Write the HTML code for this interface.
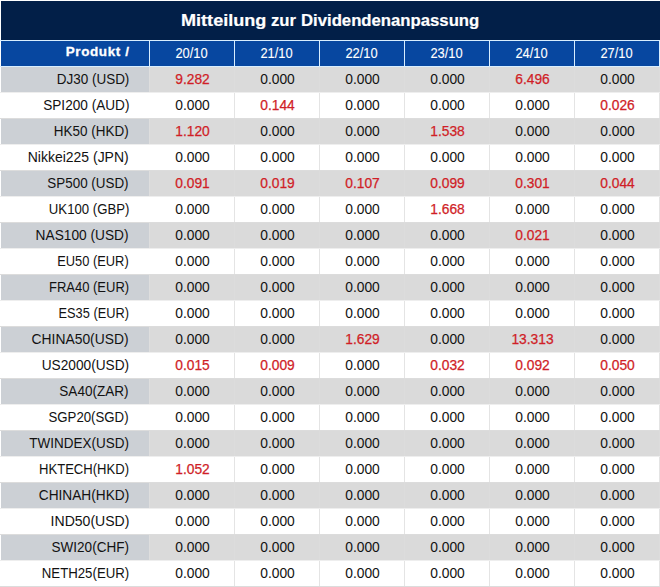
<!DOCTYPE html>
<html><head><meta charset="utf-8"><style>
html,body{margin:0;padding:0;background:#fff;width:660px;height:587px;overflow:hidden;position:relative}
body{font-family:"Liberation Sans",sans-serif}
.a{position:absolute;box-sizing:border-box;white-space:nowrap}
.h{background:#0747a0;color:#fff}
.c{text-align:center}
.g1{background:#ccd0d5}
.g2{background:#dadada}
.w{background:#fff}
.red{color:#d01e27;-webkit-text-stroke:0.25px currentColor !important}
.blk{color:#121212}
.num{font-size:13.8px;-webkit-text-stroke:0.0px currentColor}
.nm{font-size:13.8px;-webkit-text-stroke:0.0px currentColor}
.nm span{display:inline-block;transform-origin:100% 50%}
.dt{font-size:14px;-webkit-text-stroke:0.1px #fff}
</style></head><body>

<div class="a" style="left:1px;top:1px;width:659px;height:39px;background:#021f48"></div>
<div class="a" style="left:181px;top:9px;height:24px;line-height:24px;font-size:17px;color:#fff;font-weight:bold;-webkit-text-stroke:0.2px #fff"><span style="display:inline-block;transform-origin:0 50%;transform:scaleX(1.064)">Mitteilung</span></div>
<div class="a" style="left:271px;top:9px;height:24px;line-height:24px;font-size:17px;color:#fff;font-weight:bold;-webkit-text-stroke:0.2px #fff"><span style="display:inline-block;transform-origin:0 50%;transform:scaleX(0.98)">zur</span></div>
<div class="a" style="left:301px;top:9px;height:24px;line-height:24px;font-size:17px;color:#fff;font-weight:bold;-webkit-text-stroke:0.2px #fff"><span style="display:inline-block;transform-origin:0 50%;transform:scaleX(0.983)">Dividendenanpassung</span></div>
<div class="a" style="left:0;top:40px;width:660px;height:1px;background:#d8eeff"></div>
<div class="a" style="left:0;top:66px;width:660px;height:1px;background:#d8eeff"></div>
<div class="a h" style="left:1px;top:41px;width:148px;height:25px"></div>
<div class="a" style="left:0;top:39px;width:129.6px;height:25px;line-height:25px;text-align:right;color:#fff;font-size:13.5px;font-weight:bold;letter-spacing:0.6px;-webkit-text-stroke:0.3px #fff"><span style="display:inline-block;transform-origin:100% 50%;transform:scaleX(1.0)">Produkt /</span></div>
<div class="a h" style="left:150px;top:41px;width:84px;height:25px"></div>
<div class="a c dt" style="left:150px;top:41px;width:84px;height:25px;line-height:25px;color:#fff"><span style="display:inline-block;transform:scaleX(0.92)">20/10</span></div>
<div class="a" style="left:149px;top:41px;width:1px;height:25px;background:#d8eeff"></div>
<div class="a h" style="left:235px;top:41px;width:84px;height:25px"></div>
<div class="a c dt" style="left:235px;top:41px;width:84px;height:25px;line-height:25px;color:#fff"><span style="display:inline-block;transform:scaleX(0.92)">21/10</span></div>
<div class="a" style="left:234px;top:41px;width:1px;height:25px;background:#d8eeff"></div>
<div class="a h" style="left:320px;top:41px;width:84px;height:25px"></div>
<div class="a c dt" style="left:320px;top:41px;width:84px;height:25px;line-height:25px;color:#fff"><span style="display:inline-block;transform:scaleX(0.92)">22/10</span></div>
<div class="a" style="left:319px;top:41px;width:1px;height:25px;background:#d8eeff"></div>
<div class="a h" style="left:405px;top:41px;width:84px;height:25px"></div>
<div class="a c dt" style="left:405px;top:41px;width:84px;height:25px;line-height:25px;color:#fff"><span style="display:inline-block;transform:scaleX(0.92)">23/10</span></div>
<div class="a" style="left:404px;top:41px;width:1px;height:25px;background:#d8eeff"></div>
<div class="a h" style="left:490px;top:41px;width:84px;height:25px"></div>
<div class="a c dt" style="left:490px;top:41px;width:84px;height:25px;line-height:25px;color:#fff"><span style="display:inline-block;transform:scaleX(0.92)">24/10</span></div>
<div class="a" style="left:489px;top:41px;width:1px;height:25px;background:#d8eeff"></div>
<div class="a h" style="left:575px;top:41px;width:84px;height:25px"></div>
<div class="a c dt" style="left:575px;top:41px;width:84px;height:25px;line-height:25px;color:#fff"><span style="display:inline-block;transform:scaleX(0.92)">27/10</span></div>
<div class="a" style="left:574px;top:41px;width:1px;height:25px;background:#d8eeff"></div>
<div class="a" style="left:659px;top:41px;width:1px;height:25px;background:#d8eeff"></div>
<div class="a" style="left:0;top:92px;width:660px;height:1px;background:#eeeeee"></div>
<div class="a g1" style="left:1px;top:67px;width:148px;height:25px"></div>
<div class="a nm blk" style="left:0;top:67px;width:129px;height:25px;line-height:25px;text-align:right"><span style="transform:scaleX(0.9778)">DJ30 (USD)</span></div>
<div class="a g2" style="left:150px;top:67px;width:84px;height:25px"></div>
<div class="a c num red" style="left:150.5px;top:67px;width:84px;height:25px;line-height:25px">9.282</div>
<div class="a" style="left:149px;top:67px;width:1px;height:25px;background:#dedede"></div>
<div class="a g2" style="left:235px;top:67px;width:84px;height:25px"></div>
<div class="a c num blk" style="left:235.5px;top:67px;width:84px;height:25px;line-height:25px">0.000</div>
<div class="a" style="left:234px;top:67px;width:1px;height:25px;background:#dcdcdc"></div>
<div class="a g2" style="left:320px;top:67px;width:84px;height:25px"></div>
<div class="a c num blk" style="left:320.5px;top:67px;width:84px;height:25px;line-height:25px">0.000</div>
<div class="a" style="left:319px;top:67px;width:1px;height:25px;background:#dcdcdc"></div>
<div class="a g2" style="left:405px;top:67px;width:84px;height:25px"></div>
<div class="a c num blk" style="left:405.5px;top:67px;width:84px;height:25px;line-height:25px">0.000</div>
<div class="a" style="left:404px;top:67px;width:1px;height:25px;background:#dcdcdc"></div>
<div class="a g2" style="left:490px;top:67px;width:84px;height:25px"></div>
<div class="a c num red" style="left:490.5px;top:67px;width:84px;height:25px;line-height:25px">6.496</div>
<div class="a" style="left:489px;top:67px;width:1px;height:25px;background:#dcdcdc"></div>
<div class="a g2" style="left:575px;top:67px;width:84px;height:25px"></div>
<div class="a c num blk" style="left:575.5px;top:67px;width:84px;height:25px;line-height:25px">0.000</div>
<div class="a" style="left:574px;top:67px;width:1px;height:25px;background:#dcdcdc"></div>
<div class="a" style="left:659px;top:67px;width:1px;height:25px;background:#dcdcdc"></div>
<div class="a" style="left:0;top:118px;width:660px;height:1px;background:#dcdcdc"></div>
<div class="a w" style="left:1px;top:93px;width:148px;height:25px"></div>
<div class="a nm blk" style="left:0;top:93px;width:129px;height:25px;line-height:25px;text-align:right"><span style="transform:scaleX(0.9860)">SPI200 (AUD)</span></div>
<div class="a w" style="left:150px;top:93px;width:84px;height:25px"></div>
<div class="a c num blk" style="left:150.5px;top:93px;width:84px;height:25px;line-height:25px">0.000</div>
<div class="a" style="left:149px;top:93px;width:1px;height:25px;background:#ffffff"></div>
<div class="a w" style="left:235px;top:93px;width:84px;height:25px"></div>
<div class="a c num red" style="left:235.5px;top:93px;width:84px;height:25px;line-height:25px">0.144</div>
<div class="a" style="left:234px;top:93px;width:1px;height:25px;background:#e4e4e4"></div>
<div class="a w" style="left:320px;top:93px;width:84px;height:25px"></div>
<div class="a c num blk" style="left:320.5px;top:93px;width:84px;height:25px;line-height:25px">0.000</div>
<div class="a" style="left:319px;top:93px;width:1px;height:25px;background:#e4e4e4"></div>
<div class="a w" style="left:405px;top:93px;width:84px;height:25px"></div>
<div class="a c num blk" style="left:405.5px;top:93px;width:84px;height:25px;line-height:25px">0.000</div>
<div class="a" style="left:404px;top:93px;width:1px;height:25px;background:#e4e4e4"></div>
<div class="a w" style="left:490px;top:93px;width:84px;height:25px"></div>
<div class="a c num blk" style="left:490.5px;top:93px;width:84px;height:25px;line-height:25px">0.000</div>
<div class="a" style="left:489px;top:93px;width:1px;height:25px;background:#e4e4e4"></div>
<div class="a w" style="left:575px;top:93px;width:84px;height:25px"></div>
<div class="a c num red" style="left:575.5px;top:93px;width:84px;height:25px;line-height:25px">0.026</div>
<div class="a" style="left:574px;top:93px;width:1px;height:25px;background:#e4e4e4"></div>
<div class="a" style="left:659px;top:93px;width:1px;height:25px;background:#e4e4e4"></div>
<div class="a" style="left:0;top:144px;width:660px;height:1px;background:#eeeeee"></div>
<div class="a g1" style="left:1px;top:119px;width:148px;height:25px"></div>
<div class="a nm blk" style="left:0;top:119px;width:129px;height:25px;line-height:25px;text-align:right"><span style="transform:scaleX(0.9760)">HK50 (HKD)</span></div>
<div class="a g2" style="left:150px;top:119px;width:84px;height:25px"></div>
<div class="a c num red" style="left:150.5px;top:119px;width:84px;height:25px;line-height:25px">1.120</div>
<div class="a" style="left:149px;top:119px;width:1px;height:25px;background:#dedede"></div>
<div class="a g2" style="left:235px;top:119px;width:84px;height:25px"></div>
<div class="a c num blk" style="left:235.5px;top:119px;width:84px;height:25px;line-height:25px">0.000</div>
<div class="a" style="left:234px;top:119px;width:1px;height:25px;background:#dcdcdc"></div>
<div class="a g2" style="left:320px;top:119px;width:84px;height:25px"></div>
<div class="a c num blk" style="left:320.5px;top:119px;width:84px;height:25px;line-height:25px">0.000</div>
<div class="a" style="left:319px;top:119px;width:1px;height:25px;background:#dcdcdc"></div>
<div class="a g2" style="left:405px;top:119px;width:84px;height:25px"></div>
<div class="a c num red" style="left:405.5px;top:119px;width:84px;height:25px;line-height:25px">1.538</div>
<div class="a" style="left:404px;top:119px;width:1px;height:25px;background:#dcdcdc"></div>
<div class="a g2" style="left:490px;top:119px;width:84px;height:25px"></div>
<div class="a c num blk" style="left:490.5px;top:119px;width:84px;height:25px;line-height:25px">0.000</div>
<div class="a" style="left:489px;top:119px;width:1px;height:25px;background:#dcdcdc"></div>
<div class="a g2" style="left:575px;top:119px;width:84px;height:25px"></div>
<div class="a c num blk" style="left:575.5px;top:119px;width:84px;height:25px;line-height:25px">0.000</div>
<div class="a" style="left:574px;top:119px;width:1px;height:25px;background:#dcdcdc"></div>
<div class="a" style="left:659px;top:119px;width:1px;height:25px;background:#dcdcdc"></div>
<div class="a" style="left:0;top:170px;width:660px;height:1px;background:#dcdcdc"></div>
<div class="a w" style="left:1px;top:145px;width:148px;height:25px"></div>
<div class="a nm blk" style="left:0;top:145px;width:129px;height:25px;line-height:25px;text-align:right"><span style="transform:scaleX(1.0122)">Nikkei225 (JPN)</span></div>
<div class="a w" style="left:150px;top:145px;width:84px;height:25px"></div>
<div class="a c num blk" style="left:150.5px;top:145px;width:84px;height:25px;line-height:25px">0.000</div>
<div class="a" style="left:149px;top:145px;width:1px;height:25px;background:#ffffff"></div>
<div class="a w" style="left:235px;top:145px;width:84px;height:25px"></div>
<div class="a c num blk" style="left:235.5px;top:145px;width:84px;height:25px;line-height:25px">0.000</div>
<div class="a" style="left:234px;top:145px;width:1px;height:25px;background:#e4e4e4"></div>
<div class="a w" style="left:320px;top:145px;width:84px;height:25px"></div>
<div class="a c num blk" style="left:320.5px;top:145px;width:84px;height:25px;line-height:25px">0.000</div>
<div class="a" style="left:319px;top:145px;width:1px;height:25px;background:#e4e4e4"></div>
<div class="a w" style="left:405px;top:145px;width:84px;height:25px"></div>
<div class="a c num blk" style="left:405.5px;top:145px;width:84px;height:25px;line-height:25px">0.000</div>
<div class="a" style="left:404px;top:145px;width:1px;height:25px;background:#e4e4e4"></div>
<div class="a w" style="left:490px;top:145px;width:84px;height:25px"></div>
<div class="a c num blk" style="left:490.5px;top:145px;width:84px;height:25px;line-height:25px">0.000</div>
<div class="a" style="left:489px;top:145px;width:1px;height:25px;background:#e4e4e4"></div>
<div class="a w" style="left:575px;top:145px;width:84px;height:25px"></div>
<div class="a c num blk" style="left:575.5px;top:145px;width:84px;height:25px;line-height:25px">0.000</div>
<div class="a" style="left:574px;top:145px;width:1px;height:25px;background:#e4e4e4"></div>
<div class="a" style="left:659px;top:145px;width:1px;height:25px;background:#e4e4e4"></div>
<div class="a" style="left:0;top:196px;width:660px;height:1px;background:#eeeeee"></div>
<div class="a g1" style="left:1px;top:171px;width:148px;height:25px"></div>
<div class="a nm blk" style="left:0;top:171px;width:129px;height:25px;line-height:25px;text-align:right"><span style="transform:scaleX(0.9720)">SP500 (USD)</span></div>
<div class="a g2" style="left:150px;top:171px;width:84px;height:25px"></div>
<div class="a c num red" style="left:150.5px;top:171px;width:84px;height:25px;line-height:25px">0.091</div>
<div class="a" style="left:149px;top:171px;width:1px;height:25px;background:#dedede"></div>
<div class="a g2" style="left:235px;top:171px;width:84px;height:25px"></div>
<div class="a c num red" style="left:235.5px;top:171px;width:84px;height:25px;line-height:25px">0.019</div>
<div class="a" style="left:234px;top:171px;width:1px;height:25px;background:#dcdcdc"></div>
<div class="a g2" style="left:320px;top:171px;width:84px;height:25px"></div>
<div class="a c num red" style="left:320.5px;top:171px;width:84px;height:25px;line-height:25px">0.107</div>
<div class="a" style="left:319px;top:171px;width:1px;height:25px;background:#dcdcdc"></div>
<div class="a g2" style="left:405px;top:171px;width:84px;height:25px"></div>
<div class="a c num red" style="left:405.5px;top:171px;width:84px;height:25px;line-height:25px">0.099</div>
<div class="a" style="left:404px;top:171px;width:1px;height:25px;background:#dcdcdc"></div>
<div class="a g2" style="left:490px;top:171px;width:84px;height:25px"></div>
<div class="a c num red" style="left:490.5px;top:171px;width:84px;height:25px;line-height:25px">0.301</div>
<div class="a" style="left:489px;top:171px;width:1px;height:25px;background:#dcdcdc"></div>
<div class="a g2" style="left:575px;top:171px;width:84px;height:25px"></div>
<div class="a c num red" style="left:575.5px;top:171px;width:84px;height:25px;line-height:25px">0.044</div>
<div class="a" style="left:574px;top:171px;width:1px;height:25px;background:#dcdcdc"></div>
<div class="a" style="left:659px;top:171px;width:1px;height:25px;background:#dcdcdc"></div>
<div class="a" style="left:0;top:222px;width:660px;height:1px;background:#dcdcdc"></div>
<div class="a w" style="left:1px;top:197px;width:148px;height:25px"></div>
<div class="a nm blk" style="left:0;top:197px;width:129px;height:25px;line-height:25px;text-align:right"><span style="transform:scaleX(0.9542)">UK100 (GBP)</span></div>
<div class="a w" style="left:150px;top:197px;width:84px;height:25px"></div>
<div class="a c num blk" style="left:150.5px;top:197px;width:84px;height:25px;line-height:25px">0.000</div>
<div class="a" style="left:149px;top:197px;width:1px;height:25px;background:#ffffff"></div>
<div class="a w" style="left:235px;top:197px;width:84px;height:25px"></div>
<div class="a c num blk" style="left:235.5px;top:197px;width:84px;height:25px;line-height:25px">0.000</div>
<div class="a" style="left:234px;top:197px;width:1px;height:25px;background:#e4e4e4"></div>
<div class="a w" style="left:320px;top:197px;width:84px;height:25px"></div>
<div class="a c num blk" style="left:320.5px;top:197px;width:84px;height:25px;line-height:25px">0.000</div>
<div class="a" style="left:319px;top:197px;width:1px;height:25px;background:#e4e4e4"></div>
<div class="a w" style="left:405px;top:197px;width:84px;height:25px"></div>
<div class="a c num red" style="left:405.5px;top:197px;width:84px;height:25px;line-height:25px">1.668</div>
<div class="a" style="left:404px;top:197px;width:1px;height:25px;background:#e4e4e4"></div>
<div class="a w" style="left:490px;top:197px;width:84px;height:25px"></div>
<div class="a c num blk" style="left:490.5px;top:197px;width:84px;height:25px;line-height:25px">0.000</div>
<div class="a" style="left:489px;top:197px;width:1px;height:25px;background:#e4e4e4"></div>
<div class="a w" style="left:575px;top:197px;width:84px;height:25px"></div>
<div class="a c num blk" style="left:575.5px;top:197px;width:84px;height:25px;line-height:25px">0.000</div>
<div class="a" style="left:574px;top:197px;width:1px;height:25px;background:#e4e4e4"></div>
<div class="a" style="left:659px;top:197px;width:1px;height:25px;background:#e4e4e4"></div>
<div class="a" style="left:0;top:248px;width:660px;height:1px;background:#eeeeee"></div>
<div class="a g1" style="left:1px;top:223px;width:148px;height:25px"></div>
<div class="a nm blk" style="left:0;top:223px;width:129px;height:25px;line-height:25px;text-align:right"><span style="transform:scaleX(0.9935)">NAS100 (USD)</span></div>
<div class="a g2" style="left:150px;top:223px;width:84px;height:25px"></div>
<div class="a c num blk" style="left:150.5px;top:223px;width:84px;height:25px;line-height:25px">0.000</div>
<div class="a" style="left:149px;top:223px;width:1px;height:25px;background:#dedede"></div>
<div class="a g2" style="left:235px;top:223px;width:84px;height:25px"></div>
<div class="a c num blk" style="left:235.5px;top:223px;width:84px;height:25px;line-height:25px">0.000</div>
<div class="a" style="left:234px;top:223px;width:1px;height:25px;background:#dcdcdc"></div>
<div class="a g2" style="left:320px;top:223px;width:84px;height:25px"></div>
<div class="a c num blk" style="left:320.5px;top:223px;width:84px;height:25px;line-height:25px">0.000</div>
<div class="a" style="left:319px;top:223px;width:1px;height:25px;background:#dcdcdc"></div>
<div class="a g2" style="left:405px;top:223px;width:84px;height:25px"></div>
<div class="a c num blk" style="left:405.5px;top:223px;width:84px;height:25px;line-height:25px">0.000</div>
<div class="a" style="left:404px;top:223px;width:1px;height:25px;background:#dcdcdc"></div>
<div class="a g2" style="left:490px;top:223px;width:84px;height:25px"></div>
<div class="a c num red" style="left:490.5px;top:223px;width:84px;height:25px;line-height:25px">0.021</div>
<div class="a" style="left:489px;top:223px;width:1px;height:25px;background:#dcdcdc"></div>
<div class="a g2" style="left:575px;top:223px;width:84px;height:25px"></div>
<div class="a c num blk" style="left:575.5px;top:223px;width:84px;height:25px;line-height:25px">0.000</div>
<div class="a" style="left:574px;top:223px;width:1px;height:25px;background:#dcdcdc"></div>
<div class="a" style="left:659px;top:223px;width:1px;height:25px;background:#dcdcdc"></div>
<div class="a" style="left:0;top:274px;width:660px;height:1px;background:#dcdcdc"></div>
<div class="a w" style="left:1px;top:249px;width:148px;height:25px"></div>
<div class="a nm blk" style="left:0;top:249px;width:129px;height:25px;line-height:25px;text-align:right"><span style="transform:scaleX(0.9320)">EU50 (EUR)</span></div>
<div class="a w" style="left:150px;top:249px;width:84px;height:25px"></div>
<div class="a c num blk" style="left:150.5px;top:249px;width:84px;height:25px;line-height:25px">0.000</div>
<div class="a" style="left:149px;top:249px;width:1px;height:25px;background:#ffffff"></div>
<div class="a w" style="left:235px;top:249px;width:84px;height:25px"></div>
<div class="a c num blk" style="left:235.5px;top:249px;width:84px;height:25px;line-height:25px">0.000</div>
<div class="a" style="left:234px;top:249px;width:1px;height:25px;background:#e4e4e4"></div>
<div class="a w" style="left:320px;top:249px;width:84px;height:25px"></div>
<div class="a c num blk" style="left:320.5px;top:249px;width:84px;height:25px;line-height:25px">0.000</div>
<div class="a" style="left:319px;top:249px;width:1px;height:25px;background:#e4e4e4"></div>
<div class="a w" style="left:405px;top:249px;width:84px;height:25px"></div>
<div class="a c num blk" style="left:405.5px;top:249px;width:84px;height:25px;line-height:25px">0.000</div>
<div class="a" style="left:404px;top:249px;width:1px;height:25px;background:#e4e4e4"></div>
<div class="a w" style="left:490px;top:249px;width:84px;height:25px"></div>
<div class="a c num blk" style="left:490.5px;top:249px;width:84px;height:25px;line-height:25px">0.000</div>
<div class="a" style="left:489px;top:249px;width:1px;height:25px;background:#e4e4e4"></div>
<div class="a w" style="left:575px;top:249px;width:84px;height:25px"></div>
<div class="a c num blk" style="left:575.5px;top:249px;width:84px;height:25px;line-height:25px">0.000</div>
<div class="a" style="left:574px;top:249px;width:1px;height:25px;background:#e4e4e4"></div>
<div class="a" style="left:659px;top:249px;width:1px;height:25px;background:#e4e4e4"></div>
<div class="a" style="left:0;top:300px;width:660px;height:1px;background:#eeeeee"></div>
<div class="a g1" style="left:1px;top:275px;width:148px;height:25px"></div>
<div class="a nm blk" style="left:0;top:275px;width:129px;height:25px;line-height:25px;text-align:right"><span style="transform:scaleX(0.9410)">FRA40 (EUR)</span></div>
<div class="a g2" style="left:150px;top:275px;width:84px;height:25px"></div>
<div class="a c num blk" style="left:150.5px;top:275px;width:84px;height:25px;line-height:25px">0.000</div>
<div class="a" style="left:149px;top:275px;width:1px;height:25px;background:#dedede"></div>
<div class="a g2" style="left:235px;top:275px;width:84px;height:25px"></div>
<div class="a c num blk" style="left:235.5px;top:275px;width:84px;height:25px;line-height:25px">0.000</div>
<div class="a" style="left:234px;top:275px;width:1px;height:25px;background:#dcdcdc"></div>
<div class="a g2" style="left:320px;top:275px;width:84px;height:25px"></div>
<div class="a c num blk" style="left:320.5px;top:275px;width:84px;height:25px;line-height:25px">0.000</div>
<div class="a" style="left:319px;top:275px;width:1px;height:25px;background:#dcdcdc"></div>
<div class="a g2" style="left:405px;top:275px;width:84px;height:25px"></div>
<div class="a c num blk" style="left:405.5px;top:275px;width:84px;height:25px;line-height:25px">0.000</div>
<div class="a" style="left:404px;top:275px;width:1px;height:25px;background:#dcdcdc"></div>
<div class="a g2" style="left:490px;top:275px;width:84px;height:25px"></div>
<div class="a c num blk" style="left:490.5px;top:275px;width:84px;height:25px;line-height:25px">0.000</div>
<div class="a" style="left:489px;top:275px;width:1px;height:25px;background:#dcdcdc"></div>
<div class="a g2" style="left:575px;top:275px;width:84px;height:25px"></div>
<div class="a c num blk" style="left:575.5px;top:275px;width:84px;height:25px;line-height:25px">0.000</div>
<div class="a" style="left:574px;top:275px;width:1px;height:25px;background:#dcdcdc"></div>
<div class="a" style="left:659px;top:275px;width:1px;height:25px;background:#dcdcdc"></div>
<div class="a" style="left:0;top:326px;width:660px;height:1px;background:#dcdcdc"></div>
<div class="a w" style="left:1px;top:301px;width:148px;height:25px"></div>
<div class="a nm blk" style="left:0;top:301px;width:129px;height:25px;line-height:25px;text-align:right"><span style="transform:scaleX(0.9270)">ES35 (EUR)</span></div>
<div class="a w" style="left:150px;top:301px;width:84px;height:25px"></div>
<div class="a c num blk" style="left:150.5px;top:301px;width:84px;height:25px;line-height:25px">0.000</div>
<div class="a" style="left:149px;top:301px;width:1px;height:25px;background:#ffffff"></div>
<div class="a w" style="left:235px;top:301px;width:84px;height:25px"></div>
<div class="a c num blk" style="left:235.5px;top:301px;width:84px;height:25px;line-height:25px">0.000</div>
<div class="a" style="left:234px;top:301px;width:1px;height:25px;background:#e4e4e4"></div>
<div class="a w" style="left:320px;top:301px;width:84px;height:25px"></div>
<div class="a c num blk" style="left:320.5px;top:301px;width:84px;height:25px;line-height:25px">0.000</div>
<div class="a" style="left:319px;top:301px;width:1px;height:25px;background:#e4e4e4"></div>
<div class="a w" style="left:405px;top:301px;width:84px;height:25px"></div>
<div class="a c num blk" style="left:405.5px;top:301px;width:84px;height:25px;line-height:25px">0.000</div>
<div class="a" style="left:404px;top:301px;width:1px;height:25px;background:#e4e4e4"></div>
<div class="a w" style="left:490px;top:301px;width:84px;height:25px"></div>
<div class="a c num blk" style="left:490.5px;top:301px;width:84px;height:25px;line-height:25px">0.000</div>
<div class="a" style="left:489px;top:301px;width:1px;height:25px;background:#e4e4e4"></div>
<div class="a w" style="left:575px;top:301px;width:84px;height:25px"></div>
<div class="a c num blk" style="left:575.5px;top:301px;width:84px;height:25px;line-height:25px">0.000</div>
<div class="a" style="left:574px;top:301px;width:1px;height:25px;background:#e4e4e4"></div>
<div class="a" style="left:659px;top:301px;width:1px;height:25px;background:#e4e4e4"></div>
<div class="a" style="left:0;top:352px;width:660px;height:1px;background:#eeeeee"></div>
<div class="a g1" style="left:1px;top:327px;width:148px;height:25px"></div>
<div class="a nm blk" style="left:0;top:327px;width:129px;height:25px;line-height:25px;text-align:right"><span style="transform:scaleX(1.0042)">CHINA50(USD)</span></div>
<div class="a g2" style="left:150px;top:327px;width:84px;height:25px"></div>
<div class="a c num blk" style="left:150.5px;top:327px;width:84px;height:25px;line-height:25px">0.000</div>
<div class="a" style="left:149px;top:327px;width:1px;height:25px;background:#dedede"></div>
<div class="a g2" style="left:235px;top:327px;width:84px;height:25px"></div>
<div class="a c num blk" style="left:235.5px;top:327px;width:84px;height:25px;line-height:25px">0.000</div>
<div class="a" style="left:234px;top:327px;width:1px;height:25px;background:#dcdcdc"></div>
<div class="a g2" style="left:320px;top:327px;width:84px;height:25px"></div>
<div class="a c num red" style="left:320.5px;top:327px;width:84px;height:25px;line-height:25px">1.629</div>
<div class="a" style="left:319px;top:327px;width:1px;height:25px;background:#dcdcdc"></div>
<div class="a g2" style="left:405px;top:327px;width:84px;height:25px"></div>
<div class="a c num blk" style="left:405.5px;top:327px;width:84px;height:25px;line-height:25px">0.000</div>
<div class="a" style="left:404px;top:327px;width:1px;height:25px;background:#dcdcdc"></div>
<div class="a g2" style="left:490px;top:327px;width:84px;height:25px"></div>
<div class="a c num red" style="left:490.5px;top:327px;width:84px;height:25px;line-height:25px">13.313</div>
<div class="a" style="left:489px;top:327px;width:1px;height:25px;background:#dcdcdc"></div>
<div class="a g2" style="left:575px;top:327px;width:84px;height:25px"></div>
<div class="a c num blk" style="left:575.5px;top:327px;width:84px;height:25px;line-height:25px">0.000</div>
<div class="a" style="left:574px;top:327px;width:1px;height:25px;background:#dcdcdc"></div>
<div class="a" style="left:659px;top:327px;width:1px;height:25px;background:#dcdcdc"></div>
<div class="a" style="left:0;top:378px;width:660px;height:1px;background:#dcdcdc"></div>
<div class="a w" style="left:1px;top:353px;width:148px;height:25px"></div>
<div class="a nm blk" style="left:0;top:353px;width:129px;height:25px;line-height:25px;text-align:right"><span style="transform:scaleX(0.9920)">US2000(USD)</span></div>
<div class="a w" style="left:150px;top:353px;width:84px;height:25px"></div>
<div class="a c num red" style="left:150.5px;top:353px;width:84px;height:25px;line-height:25px">0.015</div>
<div class="a" style="left:149px;top:353px;width:1px;height:25px;background:#ffffff"></div>
<div class="a w" style="left:235px;top:353px;width:84px;height:25px"></div>
<div class="a c num red" style="left:235.5px;top:353px;width:84px;height:25px;line-height:25px">0.009</div>
<div class="a" style="left:234px;top:353px;width:1px;height:25px;background:#e4e4e4"></div>
<div class="a w" style="left:320px;top:353px;width:84px;height:25px"></div>
<div class="a c num blk" style="left:320.5px;top:353px;width:84px;height:25px;line-height:25px">0.000</div>
<div class="a" style="left:319px;top:353px;width:1px;height:25px;background:#e4e4e4"></div>
<div class="a w" style="left:405px;top:353px;width:84px;height:25px"></div>
<div class="a c num red" style="left:405.5px;top:353px;width:84px;height:25px;line-height:25px">0.032</div>
<div class="a" style="left:404px;top:353px;width:1px;height:25px;background:#e4e4e4"></div>
<div class="a w" style="left:490px;top:353px;width:84px;height:25px"></div>
<div class="a c num red" style="left:490.5px;top:353px;width:84px;height:25px;line-height:25px">0.092</div>
<div class="a" style="left:489px;top:353px;width:1px;height:25px;background:#e4e4e4"></div>
<div class="a w" style="left:575px;top:353px;width:84px;height:25px"></div>
<div class="a c num red" style="left:575.5px;top:353px;width:84px;height:25px;line-height:25px">0.050</div>
<div class="a" style="left:574px;top:353px;width:1px;height:25px;background:#e4e4e4"></div>
<div class="a" style="left:659px;top:353px;width:1px;height:25px;background:#e4e4e4"></div>
<div class="a" style="left:0;top:404px;width:660px;height:1px;background:#eeeeee"></div>
<div class="a g1" style="left:1px;top:379px;width:148px;height:25px"></div>
<div class="a nm blk" style="left:0;top:379px;width:129px;height:25px;line-height:25px;text-align:right"><span style="transform:scaleX(0.9812)">SA40(ZAR)</span></div>
<div class="a g2" style="left:150px;top:379px;width:84px;height:25px"></div>
<div class="a c num blk" style="left:150.5px;top:379px;width:84px;height:25px;line-height:25px">0.000</div>
<div class="a" style="left:149px;top:379px;width:1px;height:25px;background:#dedede"></div>
<div class="a g2" style="left:235px;top:379px;width:84px;height:25px"></div>
<div class="a c num blk" style="left:235.5px;top:379px;width:84px;height:25px;line-height:25px">0.000</div>
<div class="a" style="left:234px;top:379px;width:1px;height:25px;background:#dcdcdc"></div>
<div class="a g2" style="left:320px;top:379px;width:84px;height:25px"></div>
<div class="a c num blk" style="left:320.5px;top:379px;width:84px;height:25px;line-height:25px">0.000</div>
<div class="a" style="left:319px;top:379px;width:1px;height:25px;background:#dcdcdc"></div>
<div class="a g2" style="left:405px;top:379px;width:84px;height:25px"></div>
<div class="a c num blk" style="left:405.5px;top:379px;width:84px;height:25px;line-height:25px">0.000</div>
<div class="a" style="left:404px;top:379px;width:1px;height:25px;background:#dcdcdc"></div>
<div class="a g2" style="left:490px;top:379px;width:84px;height:25px"></div>
<div class="a c num blk" style="left:490.5px;top:379px;width:84px;height:25px;line-height:25px">0.000</div>
<div class="a" style="left:489px;top:379px;width:1px;height:25px;background:#dcdcdc"></div>
<div class="a g2" style="left:575px;top:379px;width:84px;height:25px"></div>
<div class="a c num blk" style="left:575.5px;top:379px;width:84px;height:25px;line-height:25px">0.000</div>
<div class="a" style="left:574px;top:379px;width:1px;height:25px;background:#dcdcdc"></div>
<div class="a" style="left:659px;top:379px;width:1px;height:25px;background:#dcdcdc"></div>
<div class="a" style="left:0;top:430px;width:660px;height:1px;background:#dcdcdc"></div>
<div class="a w" style="left:1px;top:405px;width:148px;height:25px"></div>
<div class="a nm blk" style="left:0;top:405px;width:129px;height:25px;line-height:25px;text-align:right"><span style="transform:scaleX(0.9585)">SGP20(SGD)</span></div>
<div class="a w" style="left:150px;top:405px;width:84px;height:25px"></div>
<div class="a c num blk" style="left:150.5px;top:405px;width:84px;height:25px;line-height:25px">0.000</div>
<div class="a" style="left:149px;top:405px;width:1px;height:25px;background:#ffffff"></div>
<div class="a w" style="left:235px;top:405px;width:84px;height:25px"></div>
<div class="a c num blk" style="left:235.5px;top:405px;width:84px;height:25px;line-height:25px">0.000</div>
<div class="a" style="left:234px;top:405px;width:1px;height:25px;background:#e4e4e4"></div>
<div class="a w" style="left:320px;top:405px;width:84px;height:25px"></div>
<div class="a c num blk" style="left:320.5px;top:405px;width:84px;height:25px;line-height:25px">0.000</div>
<div class="a" style="left:319px;top:405px;width:1px;height:25px;background:#e4e4e4"></div>
<div class="a w" style="left:405px;top:405px;width:84px;height:25px"></div>
<div class="a c num blk" style="left:405.5px;top:405px;width:84px;height:25px;line-height:25px">0.000</div>
<div class="a" style="left:404px;top:405px;width:1px;height:25px;background:#e4e4e4"></div>
<div class="a w" style="left:490px;top:405px;width:84px;height:25px"></div>
<div class="a c num blk" style="left:490.5px;top:405px;width:84px;height:25px;line-height:25px">0.000</div>
<div class="a" style="left:489px;top:405px;width:1px;height:25px;background:#e4e4e4"></div>
<div class="a w" style="left:575px;top:405px;width:84px;height:25px"></div>
<div class="a c num blk" style="left:575.5px;top:405px;width:84px;height:25px;line-height:25px">0.000</div>
<div class="a" style="left:574px;top:405px;width:1px;height:25px;background:#e4e4e4"></div>
<div class="a" style="left:659px;top:405px;width:1px;height:25px;background:#e4e4e4"></div>
<div class="a" style="left:0;top:456px;width:660px;height:1px;background:#eeeeee"></div>
<div class="a g1" style="left:1px;top:431px;width:148px;height:25px"></div>
<div class="a nm blk" style="left:0;top:431px;width:129px;height:25px;line-height:25px;text-align:right"><span style="transform:scaleX(0.9772)">TWINDEX(USD)</span></div>
<div class="a g2" style="left:150px;top:431px;width:84px;height:25px"></div>
<div class="a c num blk" style="left:150.5px;top:431px;width:84px;height:25px;line-height:25px">0.000</div>
<div class="a" style="left:149px;top:431px;width:1px;height:25px;background:#dedede"></div>
<div class="a g2" style="left:235px;top:431px;width:84px;height:25px"></div>
<div class="a c num blk" style="left:235.5px;top:431px;width:84px;height:25px;line-height:25px">0.000</div>
<div class="a" style="left:234px;top:431px;width:1px;height:25px;background:#dcdcdc"></div>
<div class="a g2" style="left:320px;top:431px;width:84px;height:25px"></div>
<div class="a c num blk" style="left:320.5px;top:431px;width:84px;height:25px;line-height:25px">0.000</div>
<div class="a" style="left:319px;top:431px;width:1px;height:25px;background:#dcdcdc"></div>
<div class="a g2" style="left:405px;top:431px;width:84px;height:25px"></div>
<div class="a c num blk" style="left:405.5px;top:431px;width:84px;height:25px;line-height:25px">0.000</div>
<div class="a" style="left:404px;top:431px;width:1px;height:25px;background:#dcdcdc"></div>
<div class="a g2" style="left:490px;top:431px;width:84px;height:25px"></div>
<div class="a c num blk" style="left:490.5px;top:431px;width:84px;height:25px;line-height:25px">0.000</div>
<div class="a" style="left:489px;top:431px;width:1px;height:25px;background:#dcdcdc"></div>
<div class="a g2" style="left:575px;top:431px;width:84px;height:25px"></div>
<div class="a c num blk" style="left:575.5px;top:431px;width:84px;height:25px;line-height:25px">0.000</div>
<div class="a" style="left:574px;top:431px;width:1px;height:25px;background:#dcdcdc"></div>
<div class="a" style="left:659px;top:431px;width:1px;height:25px;background:#dcdcdc"></div>
<div class="a" style="left:0;top:482px;width:660px;height:1px;background:#dcdcdc"></div>
<div class="a w" style="left:1px;top:457px;width:148px;height:25px"></div>
<div class="a nm blk" style="left:0;top:457px;width:129px;height:25px;line-height:25px;text-align:right"><span style="transform:scaleX(0.9473)">HKTECH(HKD)</span></div>
<div class="a w" style="left:150px;top:457px;width:84px;height:25px"></div>
<div class="a c num red" style="left:150.5px;top:457px;width:84px;height:25px;line-height:25px">1.052</div>
<div class="a" style="left:149px;top:457px;width:1px;height:25px;background:#ffffff"></div>
<div class="a w" style="left:235px;top:457px;width:84px;height:25px"></div>
<div class="a c num blk" style="left:235.5px;top:457px;width:84px;height:25px;line-height:25px">0.000</div>
<div class="a" style="left:234px;top:457px;width:1px;height:25px;background:#e4e4e4"></div>
<div class="a w" style="left:320px;top:457px;width:84px;height:25px"></div>
<div class="a c num blk" style="left:320.5px;top:457px;width:84px;height:25px;line-height:25px">0.000</div>
<div class="a" style="left:319px;top:457px;width:1px;height:25px;background:#e4e4e4"></div>
<div class="a w" style="left:405px;top:457px;width:84px;height:25px"></div>
<div class="a c num blk" style="left:405.5px;top:457px;width:84px;height:25px;line-height:25px">0.000</div>
<div class="a" style="left:404px;top:457px;width:1px;height:25px;background:#e4e4e4"></div>
<div class="a w" style="left:490px;top:457px;width:84px;height:25px"></div>
<div class="a c num blk" style="left:490.5px;top:457px;width:84px;height:25px;line-height:25px">0.000</div>
<div class="a" style="left:489px;top:457px;width:1px;height:25px;background:#e4e4e4"></div>
<div class="a w" style="left:575px;top:457px;width:84px;height:25px"></div>
<div class="a c num blk" style="left:575.5px;top:457px;width:84px;height:25px;line-height:25px">0.000</div>
<div class="a" style="left:574px;top:457px;width:1px;height:25px;background:#e4e4e4"></div>
<div class="a" style="left:659px;top:457px;width:1px;height:25px;background:#e4e4e4"></div>
<div class="a" style="left:0;top:508px;width:660px;height:1px;background:#eeeeee"></div>
<div class="a g1" style="left:1px;top:483px;width:148px;height:25px"></div>
<div class="a nm blk" style="left:0;top:483px;width:129px;height:25px;line-height:25px;text-align:right"><span style="transform:scaleX(0.9911)">CHINAH(HKD)</span></div>
<div class="a g2" style="left:150px;top:483px;width:84px;height:25px"></div>
<div class="a c num blk" style="left:150.5px;top:483px;width:84px;height:25px;line-height:25px">0.000</div>
<div class="a" style="left:149px;top:483px;width:1px;height:25px;background:#dedede"></div>
<div class="a g2" style="left:235px;top:483px;width:84px;height:25px"></div>
<div class="a c num blk" style="left:235.5px;top:483px;width:84px;height:25px;line-height:25px">0.000</div>
<div class="a" style="left:234px;top:483px;width:1px;height:25px;background:#dcdcdc"></div>
<div class="a g2" style="left:320px;top:483px;width:84px;height:25px"></div>
<div class="a c num blk" style="left:320.5px;top:483px;width:84px;height:25px;line-height:25px">0.000</div>
<div class="a" style="left:319px;top:483px;width:1px;height:25px;background:#dcdcdc"></div>
<div class="a g2" style="left:405px;top:483px;width:84px;height:25px"></div>
<div class="a c num blk" style="left:405.5px;top:483px;width:84px;height:25px;line-height:25px">0.000</div>
<div class="a" style="left:404px;top:483px;width:1px;height:25px;background:#dcdcdc"></div>
<div class="a g2" style="left:490px;top:483px;width:84px;height:25px"></div>
<div class="a c num blk" style="left:490.5px;top:483px;width:84px;height:25px;line-height:25px">0.000</div>
<div class="a" style="left:489px;top:483px;width:1px;height:25px;background:#dcdcdc"></div>
<div class="a g2" style="left:575px;top:483px;width:84px;height:25px"></div>
<div class="a c num blk" style="left:575.5px;top:483px;width:84px;height:25px;line-height:25px">0.000</div>
<div class="a" style="left:574px;top:483px;width:1px;height:25px;background:#dcdcdc"></div>
<div class="a" style="left:659px;top:483px;width:1px;height:25px;background:#dcdcdc"></div>
<div class="a" style="left:0;top:534px;width:660px;height:1px;background:#dcdcdc"></div>
<div class="a w" style="left:1px;top:509px;width:148px;height:25px"></div>
<div class="a nm blk" style="left:0;top:509px;width:129px;height:25px;line-height:25px;text-align:right"><span style="transform:scaleX(1.0184)">IND50(USD)</span></div>
<div class="a w" style="left:150px;top:509px;width:84px;height:25px"></div>
<div class="a c num blk" style="left:150.5px;top:509px;width:84px;height:25px;line-height:25px">0.000</div>
<div class="a" style="left:149px;top:509px;width:1px;height:25px;background:#ffffff"></div>
<div class="a w" style="left:235px;top:509px;width:84px;height:25px"></div>
<div class="a c num blk" style="left:235.5px;top:509px;width:84px;height:25px;line-height:25px">0.000</div>
<div class="a" style="left:234px;top:509px;width:1px;height:25px;background:#e4e4e4"></div>
<div class="a w" style="left:320px;top:509px;width:84px;height:25px"></div>
<div class="a c num blk" style="left:320.5px;top:509px;width:84px;height:25px;line-height:25px">0.000</div>
<div class="a" style="left:319px;top:509px;width:1px;height:25px;background:#e4e4e4"></div>
<div class="a w" style="left:405px;top:509px;width:84px;height:25px"></div>
<div class="a c num blk" style="left:405.5px;top:509px;width:84px;height:25px;line-height:25px">0.000</div>
<div class="a" style="left:404px;top:509px;width:1px;height:25px;background:#e4e4e4"></div>
<div class="a w" style="left:490px;top:509px;width:84px;height:25px"></div>
<div class="a c num blk" style="left:490.5px;top:509px;width:84px;height:25px;line-height:25px">0.000</div>
<div class="a" style="left:489px;top:509px;width:1px;height:25px;background:#e4e4e4"></div>
<div class="a w" style="left:575px;top:509px;width:84px;height:25px"></div>
<div class="a c num blk" style="left:575.5px;top:509px;width:84px;height:25px;line-height:25px">0.000</div>
<div class="a" style="left:574px;top:509px;width:1px;height:25px;background:#e4e4e4"></div>
<div class="a" style="left:659px;top:509px;width:1px;height:25px;background:#e4e4e4"></div>
<div class="a" style="left:0;top:560px;width:660px;height:1px;background:#eeeeee"></div>
<div class="a g1" style="left:1px;top:535px;width:148px;height:25px"></div>
<div class="a nm blk" style="left:0;top:535px;width:129px;height:25px;line-height:25px;text-align:right"><span style="transform:scaleX(0.9805)">SWI20(CHF)</span></div>
<div class="a g2" style="left:150px;top:535px;width:84px;height:25px"></div>
<div class="a c num blk" style="left:150.5px;top:535px;width:84px;height:25px;line-height:25px">0.000</div>
<div class="a" style="left:149px;top:535px;width:1px;height:25px;background:#dedede"></div>
<div class="a g2" style="left:235px;top:535px;width:84px;height:25px"></div>
<div class="a c num blk" style="left:235.5px;top:535px;width:84px;height:25px;line-height:25px">0.000</div>
<div class="a" style="left:234px;top:535px;width:1px;height:25px;background:#dcdcdc"></div>
<div class="a g2" style="left:320px;top:535px;width:84px;height:25px"></div>
<div class="a c num blk" style="left:320.5px;top:535px;width:84px;height:25px;line-height:25px">0.000</div>
<div class="a" style="left:319px;top:535px;width:1px;height:25px;background:#dcdcdc"></div>
<div class="a g2" style="left:405px;top:535px;width:84px;height:25px"></div>
<div class="a c num blk" style="left:405.5px;top:535px;width:84px;height:25px;line-height:25px">0.000</div>
<div class="a" style="left:404px;top:535px;width:1px;height:25px;background:#dcdcdc"></div>
<div class="a g2" style="left:490px;top:535px;width:84px;height:25px"></div>
<div class="a c num blk" style="left:490.5px;top:535px;width:84px;height:25px;line-height:25px">0.000</div>
<div class="a" style="left:489px;top:535px;width:1px;height:25px;background:#dcdcdc"></div>
<div class="a g2" style="left:575px;top:535px;width:84px;height:25px"></div>
<div class="a c num blk" style="left:575.5px;top:535px;width:84px;height:25px;line-height:25px">0.000</div>
<div class="a" style="left:574px;top:535px;width:1px;height:25px;background:#dcdcdc"></div>
<div class="a" style="left:659px;top:535px;width:1px;height:25px;background:#dcdcdc"></div>
<div class="a" style="left:0;top:586px;width:660px;height:1px;background:#dcdcdc"></div>
<div class="a w" style="left:1px;top:561px;width:148px;height:25px"></div>
<div class="a nm blk" style="left:0;top:561px;width:129px;height:25px;line-height:25px;text-align:right"><span style="transform:scaleX(0.9589)">NETH25(EUR)</span></div>
<div class="a w" style="left:150px;top:561px;width:84px;height:25px"></div>
<div class="a c num blk" style="left:150.5px;top:561px;width:84px;height:25px;line-height:25px">0.000</div>
<div class="a" style="left:149px;top:561px;width:1px;height:25px;background:#ffffff"></div>
<div class="a w" style="left:235px;top:561px;width:84px;height:25px"></div>
<div class="a c num blk" style="left:235.5px;top:561px;width:84px;height:25px;line-height:25px">0.000</div>
<div class="a" style="left:234px;top:561px;width:1px;height:25px;background:#e4e4e4"></div>
<div class="a w" style="left:320px;top:561px;width:84px;height:25px"></div>
<div class="a c num blk" style="left:320.5px;top:561px;width:84px;height:25px;line-height:25px">0.000</div>
<div class="a" style="left:319px;top:561px;width:1px;height:25px;background:#e4e4e4"></div>
<div class="a w" style="left:405px;top:561px;width:84px;height:25px"></div>
<div class="a c num blk" style="left:405.5px;top:561px;width:84px;height:25px;line-height:25px">0.000</div>
<div class="a" style="left:404px;top:561px;width:1px;height:25px;background:#e4e4e4"></div>
<div class="a w" style="left:490px;top:561px;width:84px;height:25px"></div>
<div class="a c num blk" style="left:490.5px;top:561px;width:84px;height:25px;line-height:25px">0.000</div>
<div class="a" style="left:489px;top:561px;width:1px;height:25px;background:#e4e4e4"></div>
<div class="a w" style="left:575px;top:561px;width:84px;height:25px"></div>
<div class="a c num blk" style="left:575.5px;top:561px;width:84px;height:25px;line-height:25px">0.000</div>
<div class="a" style="left:574px;top:561px;width:1px;height:25px;background:#e4e4e4"></div>
<div class="a" style="left:659px;top:561px;width:1px;height:25px;background:#e4e4e4"></div>
</body></html>
